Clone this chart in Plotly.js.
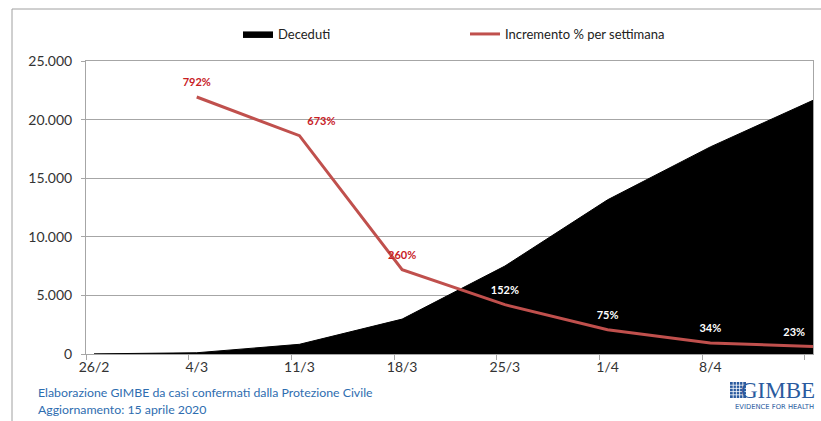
<!DOCTYPE html>
<html>
<head>
<meta charset="utf-8">
<script src="https://cdn.plot.ly/plotly-3.0.1.min.js"></script>
<style>
  html, body { margin: 0; padding: 0; background: #ffffff; }
  #chart { width: 821px; height: 421px; }
</style>
</head>
<body>
<div id="chart"></div>
<script>
// ---- Data ----
const weeks = ['26/2', '4/3', '11/3', '18/3', '25/3', '1/4', '8/4', '15/4'];
const deceduti = [12, 107, 827, 2978, 7503, 13155, 17669, 21645];
const incrementoWeeks = ['4/3', '11/3', '18/3', '25/3', '1/4', '8/4', '15/4'];
const incremento = [792, 673, 260, 152, 75, 34, 23];
const yTicks = [0, 5000, 10000, 15000, 20000, 25000];

const seriesNames = ['Deceduti', 'Incremento % per settimana'];
const footerLines = ['Elaborazione GIMBE da casi confermati dalla Protezione Civile',
                     'Aggiornamento: 15 aprile 2020'];

// ---- Layout helpers (pixel -> paper) ----
const W = 821, H = 421;
const M = {l: 86, r: 8, t: 61, b: 67};
const PW = W - M.l - M.r, PH = H - M.t - M.b;
const px = x => (x - M.l) / PW;
const py = y => (H - M.b - y) / PH;

const idx = weeks.map((_, i) => i);
const incIdx = incrementoWeeks.map(w => weeks.indexOf(w));

const FONT = 'Lato, "Open Sans", sans-serif';
const GRID = '#a6a6a6';
const RED = '#c0504d';

const traces = [
  {
    x: idx, y: deceduti, name: seriesNames[0],
    type: 'scatter', mode: 'lines', fill: 'tozeroy',
    line: {color: '#000000', width: 1}, fillcolor: '#000000',
    hoverinfo: 'x+y'
  },
  {
    x: incIdx, y: incremento, name: seriesNames[1], yaxis: 'y2',
    type: 'scatter', mode: 'lines+markers+text',
    line: {color: RED, width: 3},
    marker: {size: 11, color: 'rgba(0,0,0,0)', line: {width: 0}},
    text: incremento.map(v => v + '%'),
    textposition: ['top center', 'top right', 'top center', 'top center', 'top center', 'top center', 'top left'],
    textfont: {family: FONT, size: 11, weight: 'bold',
               color: incremento.map((_, i) => i < 3 ? '#c8201f' : '#ffffff')},
    cliponaxis: true
  }
];

// Outer frame + GIMBE logo grid icon
const shapes = [
  {type: 'rect', xref: 'paper', yref: 'paper',
   x0: px(12), x1: px(830), y0: py(430), y1: py(9),
   line: {color: '#a0a0a0', width: 1}, fillcolor: 'rgba(0,0,0,0)', layer: 'below'},
  {type: 'rect', xref: 'paper', yref: 'paper',
   x0: px(730), x1: px(746), y0: py(398), y1: py(382),
   line: {width: 0}, fillcolor: '#2a5a9e'}
];
for (let k = 1; k < 5; k++) {
  const gx = 730 + k * 3.2, gy = 382 + k * 3.2;
  shapes.push({type: 'line', xref: 'paper', yref: 'paper', x0: px(gx), x1: px(gx), y0: py(382), y1: py(398),
               line: {color: '#ffffff', width: 0.8}});
  shapes.push({type: 'line', xref: 'paper', yref: 'paper', x0: px(730), x1: px(746), y0: py(gy), y1: py(gy),
               line: {color: '#ffffff', width: 0.8}});
}

const annotations = [
  {text: footerLines[0], xref: 'paper', yref: 'paper', x: px(36), y: py(392),
   xanchor: 'left', yanchor: 'middle', showarrow: false,
   font: {family: FONT, size: 12.3, color: '#2e6db0'}},
  {text: footerLines[1], xref: 'paper', yref: 'paper', x: px(36), y: py(409),
   xanchor: 'left', yanchor: 'middle', showarrow: false,
   font: {family: FONT, size: 12.3, color: '#2e6db0'}},
  {text: 'GIMBE', xref: 'paper', yref: 'paper', x: px(817), y: py(390),
   xanchor: 'right', yanchor: 'middle', showarrow: false,
   font: {family: '"Liberation Serif", "DejaVu Serif", serif', size: 23, color: '#2a5a9e'}},
  {text: 'EVIDENCE FOR HEALTH', xref: 'paper', yref: 'paper', x: px(816), y: py(407),
   xanchor: 'right', yanchor: 'middle', showarrow: false,
   font: {family: '"DejaVu Sans", sans-serif', size: 6.8, color: '#2a5a9e'}}
];

const layout = {
  width: W, height: H,
  margin: M,
  paper_bgcolor: '#ffffff', plot_bgcolor: '#ffffff',
  separators: ',.',
  font: {family: FONT, size: 14, color: '#333333'},
  showlegend: true,
  legend: {
    orientation: 'h', x: px(238), xanchor: 'left', y: py(34), yanchor: 'middle',
    entrywidth: 182, entrywidthmode: 'pixels',
    font: {family: FONT, size: 13, color: '#222222'},
    bgcolor: 'rgba(0,0,0,0)', traceorder: 'normal'
  },
  xaxis: {
    range: [-0.078, 7.0],
    tickmode: 'array', tickvals: idx, ticktext: weeks,
    ticks: '', showgrid: false, zeroline: false,
    showline: true, linecolor: GRID, linewidth: 1, mirror: true,
    tickfont: {family: FONT, size: 14, color: '#333333'},
    minor: {tick0: -0.078, dtick: 1, ticks: 'outside', ticklen: 5, tickcolor: GRID, tickwidth: 1, showgrid: false},
    fixedrange: true
  },
  yaxis: {
    range: [0, 25000], tickmode: 'array', tickvals: yTicks,
    tickformat: ',d',
    ticks: 'outside', ticklen: 4, tickcolor: GRID,
    showgrid: true, gridcolor: GRID, gridwidth: 1,
    zeroline: false, showline: true, linecolor: GRID, linewidth: 1, mirror: true,
    ticklabelstandoff: 6,
    tickfont: {family: FONT, size: 14, color: '#333333'},
    fixedrange: true
  },
  yaxis2: {
    range: [0, 903], overlaying: 'y', side: 'right', visible: false, fixedrange: true
  },
  shapes: shapes,
  annotations: annotations
};

Plotly.newPlot('chart', traces, layout, {displayModeBar: false, staticPlot: true});
</script>
</body>
</html>
